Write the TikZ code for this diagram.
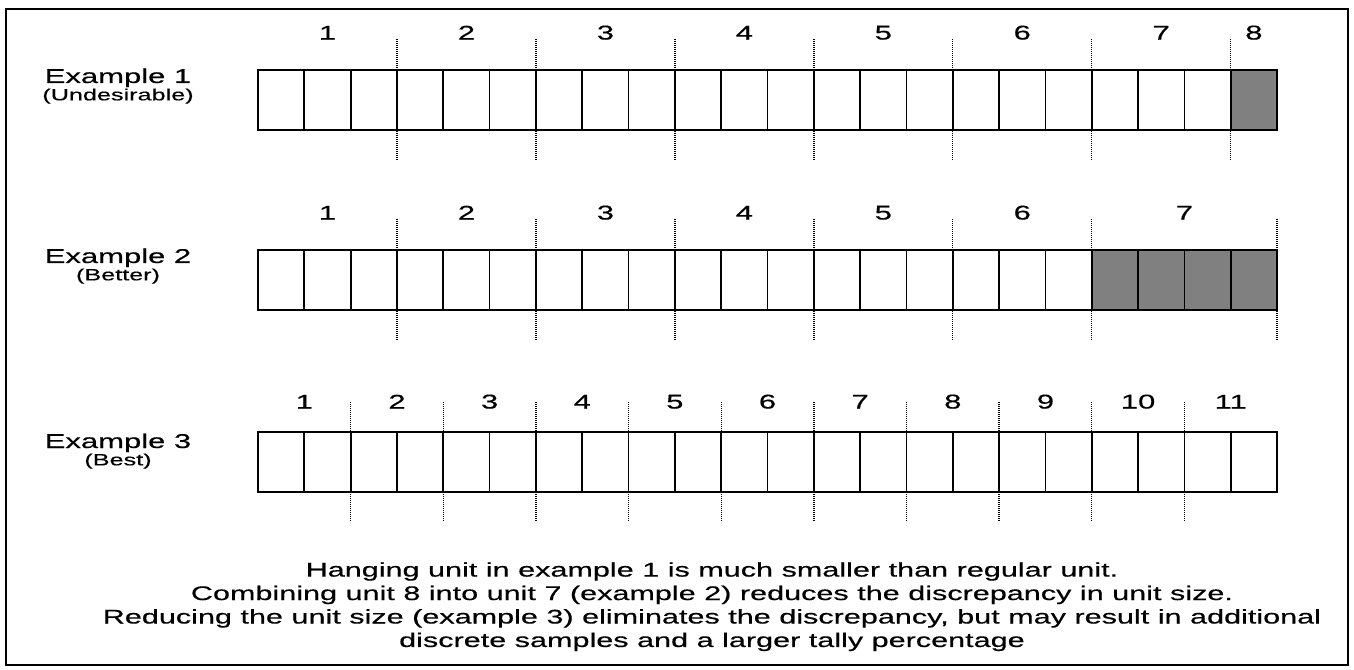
\documentclass[tikz,border=0pt]{standalone}
\usepackage{fontspec}
\setmainfont{Liberation Sans}[FakeStretch=1.55, FakeBold=0.4]
\usetikzlibrary{positioning}
\definecolor{hanggray}{RGB}{128,128,128}
\tikzset{
  cell/.style={
    rectangle, draw=black, line width=1.3pt, fill=white,
    minimum width=34.74pt, minimum height=45pt,
    inner sep=0pt, outer sep=0pt
  },
  hanging cell/.style={cell, fill=hanggray},
  unit mark/.style={line width=1pt, dash pattern=on 0.75pt off 0.75pt},
  unit label/.style={inner sep=0pt, font=\fontsize{15}{18}\selectfont},
  example label/.style={inner sep=0pt, font=\fontsize{15}{18}\selectfont},
  example note/.style={inner sep=0pt, font=\fontsize{12.2}{14.6}\selectfont},
  frame/.style={line width=1.6pt}
}

\begin{document}
\begin{tikzpicture}[x=0.75pt, y=-0.75pt]
    \useasboundingbox (0,0) rectangle (1354,670);
    \draw[frame] (6,9) rectangle (1348,665);

    % example 1: units of three cells, one hanging cell
    \node[cell, anchor=north west] (c1-1) at (258,70) {};
    \foreach \i in {2,...,21} {
      \pgfmathtruncatemacro\prev{\i-1}
      \node[cell, right=0pt of c1-\prev] (c1-\i) {};
    }
    \node[hanging cell, right=0pt of c1-21] (c1-22) {};
    \foreach \k in {3,6,...,21}
      \draw[unit mark] ([yshift=23.25pt]c1-\k.north east) -- ([yshift=-23.25pt]c1-\k.south east);
    \foreach \u/\c in {1/2,2/5,3/8,4/11,5/14,6/17,7/20,8/22}
      \node[unit label, above=22.5pt of c1-\c] (u1-\u) {\u};

    % example 2: hanging cell merged into unit 7
    \node[cell, anchor=north west] (c2-1) at (258,250) {};
    \foreach \i in {2,...,18} {
      \pgfmathtruncatemacro\prev{\i-1}
      \node[cell, right=0pt of c2-\prev] (c2-\i) {};
    }
    \foreach \i in {19,...,22} {
      \pgfmathtruncatemacro\prev{\i-1}
      \node[hanging cell, right=0pt of c2-\prev] (c2-\i) {};
    }
    \foreach \k in {3,6,...,18,22}
      \draw[unit mark] ([yshift=23.25pt]c2-\k.north east) -- ([yshift=-23.25pt]c2-\k.south east);
    \foreach \u/\c in {1/2,2/5,3/8,4/11,5/14,6/17}
      \node[unit label, above=22.5pt of c2-\c] (u2-\u) {\u};
    \node[unit label, above=22.5pt of c2-20.north east] (u2-7) {7};

    % example 3: units of two cells
    \node[cell, anchor=north west] (c3-1) at (258,432) {};
    \foreach \i in {2,...,22} {
      \pgfmathtruncatemacro\prev{\i-1}
      \node[cell, right=0pt of c3-\prev] (c3-\i) {};
    }
    \foreach \k in {2,4,...,20}
      \draw[unit mark] ([yshift=22.5pt]c3-\k.north east) -- ([yshift=-22.5pt]c3-\k.south east);
    \foreach \u in {1,...,11} {
      \pgfmathtruncatemacro\c{2*\u-1}
      \node[unit label, above=17.25pt of c3-\c.north east] (u3-\u) {\u};
    }

    % row titles
    \node[example label, anchor=base] (ex1) at (118,83) {Example 1};
    \node[example note, anchor=base] (ex1note) at ([yshift=-13pt]ex1.base) {(Undesirable)};
    \node[example label, anchor=base] (ex2) at (118,263) {Example 2};
    \node[example note, anchor=base] (ex2note) at ([yshift=-13pt]ex2.base) {(Better)};
    \node[example label, anchor=base] (ex3) at (118,448) {Example 3};
    \node[example note, anchor=base] (ex3note) at ([yshift=-13pt]ex3.base) {(Best)};

    % explanation
    \node[inner sep=0pt, anchor=north, align=center,
      font=\fontsize{14.8}{17.6}\selectfont] (note) at (712,562)
      {Hanging unit in example 1 is much smaller than regular unit.\\
       Combining unit 8 into unit 7 (example 2) reduces the discrepancy in unit size.\\
       Reducing the unit size (example 3) eliminates the discrepancy, but may result in additional\\
       discrete samples and a larger tally percentage};
\end{tikzpicture}
\end{document}
